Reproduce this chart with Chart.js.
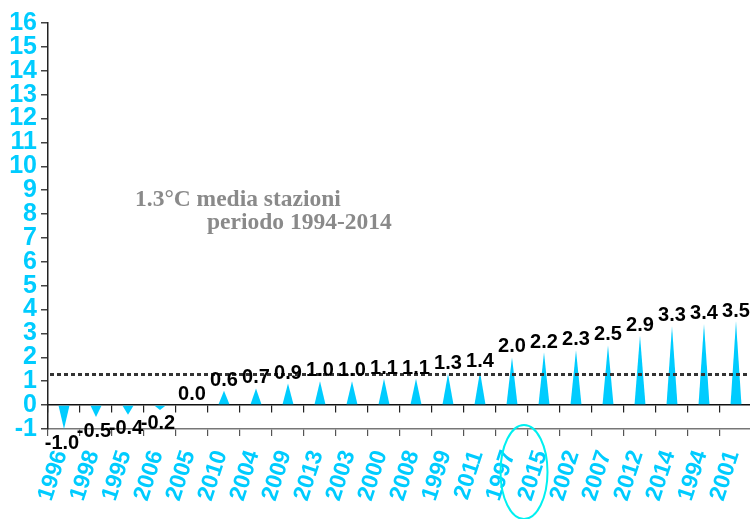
<!DOCTYPE html>
<html><head><meta charset="utf-8">
<script src="https://cdn.jsdelivr.net/npm/chart.js@4/dist/chart.umd.min.js"></script>
<style>
html,body{margin:0;padding:0;background:#fff;overflow:hidden;width:750px;height:519px}
#wrap{width:760px;height:519px}
</style></head>
<body><div id="wrap"><canvas id="c" width="760" height="519"></canvas></div>
<script>
// ---- data ----
const years = ['1996','1998','1995','2006','2005','2010','2004','2009','2013','2003','2000','2008','1999','2011','1997','2015','2002','2007','2012','2014','1994','2001'];
const anomalies = [-1.0,-0.5,-0.4,-0.2,0.0,0.6,0.7,0.9,1.0,1.0,1.1,1.1,1.3,1.4,2.0,2.2,2.3,2.5,2.9,3.3,3.4,3.5];
const meanValue = 1.3;
const noteLines = ['1.3°C media stazioni', 'periodo 1994-2014'];
const highlightedYear = '2015';
const yMin = -1, yMax = 16, yStep = 1;

const CYAN = 'rgb(0,204,255)';

const trianglePlugin = {
  id: 'triangles',
  afterDatasetsDraw(chart) {
    const ctx = chart.ctx;
    const meta = chart.getDatasetMeta(0);
    const ys = chart.scales.y;
    const area = chart.chartArea;
    ctx.save();
    // triangles
    ctx.fillStyle = CYAN;
    meta.data.forEach((el) => {
      const p = el.getProps(['x', 'y', 'base', 'width'], true);
      if (Math.abs(p.y - p.base) < 0.5) return;
      ctx.beginPath();
      ctx.moveTo(p.x - p.width / 2, p.base);
      ctx.lineTo(p.x + p.width / 2, p.base);
      ctx.lineTo(p.x, p.y);
      ctx.closePath();
      ctx.fill();
    });
    // mean dotted line
    const ym = Math.round(ys.getPixelForValue(meanValue)) + 0.5;
    ctx.strokeStyle = '#333';
    ctx.lineWidth = 3;
    ctx.setLineDash([4, 3]);
    ctx.beginPath();
    ctx.moveTo(Math.round(area.left) + 2, ym);
    ctx.lineTo(area.right + 10, ym);
    ctx.stroke();
    ctx.setLineDash([]);
    // value labels
    ctx.fillStyle = '#000';
    ctx.font = 'bold 20px "Liberation Sans", Arial, sans-serif';
    ctx.textAlign = 'center';
    meta.data.forEach((el, i) => {
      const p = el.getProps(['x', 'y', 'base'], true);
      const v = anomalies[i];
      const txt = v.toFixed(1);
      if (v < 0) {
        ctx.textBaseline = 'top';
        ctx.fillText(txt, p.x - 2, p.y + 4);
      } else {
        ctx.textBaseline = 'alphabetic';
        ctx.fillText(txt, p.x, p.y - 5);
      }
    });
    // note
    ctx.fillStyle = '#8a8a8a';
    ctx.font = 'bold 23.5px "Liberation Serif", "Times New Roman", serif';
    ctx.textAlign = 'left';
    ctx.textBaseline = 'alphabetic';
    ctx.fillText(noteLines[0], area.left + 87, area.top + 183);
    ctx.fillText(noteLines[1], area.left + 159, area.top + 206);
    ctx.restore();
  },
  afterDraw(chart) {
    const ctx = chart.ctx;
    const xs = chart.scales.x;
    const idx = years.indexOf(highlightedYear);
    const cx = xs.getPixelForValue(idx) - 20;
    ctx.save();
    ctx.strokeStyle = 'rgb(0,240,240)';
    ctx.lineWidth = 2;
    ctx.beginPath();
    ctx.ellipse(cx, xs.top + 43, 23.5, 47, 0, 0, Math.PI * 2);
    ctx.stroke();
    ctx.restore();
  }
};

const axisFont = { family: '"Liberation Sans", Arial, sans-serif', size: 23, weight: 'bold' };

new Chart(document.getElementById('c'), {
  type: 'bar',
  data: {
    labels: years,
    datasets: [{
      data: anomalies,
      backgroundColor: 'rgba(0,0,0,0)',
      borderWidth: 0,
      barPercentage: 0.34,
      categoryPercentage: 1.0,
      xAxisID: 'x',
      yAxisID: 'y'
    }]
  },
  options: {
    responsive: false,
    animation: false,
    events: [],
    layout: { padding: { top: 23, right: 8, left: 0, bottom: 0 } },
    plugins: { legend: { display: false }, tooltip: { enabled: false } },
    scales: {
      x: {
        type: 'category',
        position: 'bottom',
        offset: true,
        grid: { offset: true, drawOnChartArea: false, drawTicks: true, tickLength: 7, color: '#555', lineWidth: 1.2 },
        border: { display: true, color: '#777', width: 1.5 },
        ticks: { color: CYAN, font: axisFont, minRotation: 72, maxRotation: 72, autoSkip: false, padding: 11, labelOffset: -3 },
        afterFit(s) { s.height = 90; s.paddingRight = 0; s.paddingLeft = 0; }
      },
      x0: {
        type: 'category',
        position: { y: 0 },
        offset: true,
        grid: { offset: true, drawOnChartArea: false, drawTicks: true, tickLength: 7, color: '#222', lineWidth: 1.2 },
        border: { display: true, color: '#111', width: 1.5 },
        ticks: { display: false }
      },
      y: {
        min: yMin, max: yMax,
        grid: { drawOnChartArea: false, drawTicks: true, tickLength: 7, color: '#444', lineWidth: 1.5 },
        border: { display: true, color: '#222', width: 1.5 },
        ticks: { stepSize: yStep, autoSkip: false, color: CYAN, font: { family: '"Liberation Sans", Arial, sans-serif', size: 25, weight: 'bold' }, padding: 4 },
        afterFit(s) { s.width = 48; }
      }
    }
  },
  plugins: [trianglePlugin]
});
</script>
</body></html>
